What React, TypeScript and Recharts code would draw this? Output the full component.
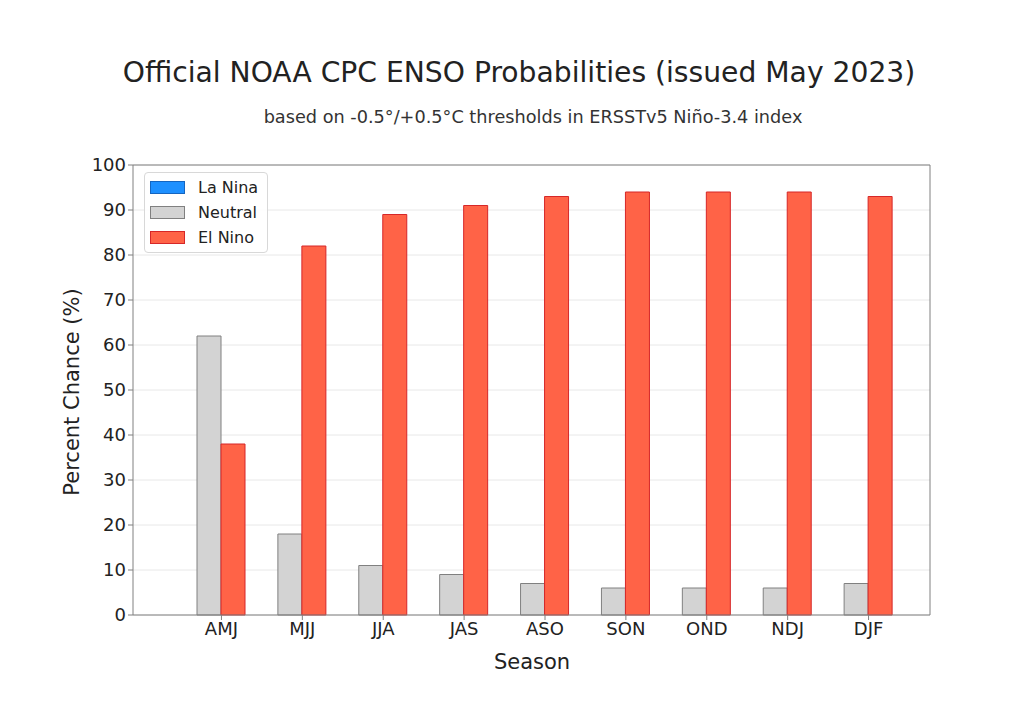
import React from "react";
import { BarChart, Bar, XAxis, YAxis, CartesianGrid } from "recharts";

const seasons = ["AMJ", "MJJ", "JJA", "JAS", "ASO", "SON", "OND", "NDJ", "DJF"];
const laNina = [0, 0, 0, 0, 0, 0, 0, 0, 0];
const neutral = [62, 18, 11, 9, 7, 6, 6, 6, 7];
const elNino = [38, 82, 89, 91, 93, 94, 94, 94, 93];
const yTicks = [0, 10, 20, 30, 40, 50, 60, 70, 80, 90, 100];

const data = seasons.map((s, i) => ({
  season: s,
  laNina: laNina[i],
  neutral: neutral[i],
  elNino: elNino[i],
}));

const font = "'DejaVu Sans', sans-serif";
const xPad = { left: 48, right: 21 };

const legendItems = [
  { name: "La Nina", fill: "#1e90ff", stroke: "#1565c0" },
  { name: "Neutral", fill: "#d3d3d3", stroke: "#808080" },
  { name: "El Nino", fill: "#ff6347", stroke: "#d62728" },
];

function LegendBox() {
  return (
    <div
      style={{
        position: "absolute",
        left: 144,
        top: 172,
        border: "1px solid #d8d8d8",
        borderRadius: 4,
        background: "rgba(255,255,255,0.85)",
        padding: "2px 9px 2px 5px",
        fontFamily: font,
        fontSize: 16,
        color: "#222",
      }}
    >
      {legendItems.map((it) => (
        <div key={it.name} style={{ display: "flex", alignItems: "center", height: 25 }}>
          <span
            style={{
              display: "inline-block",
              width: 33,
              height: 11,
              background: it.fill,
              border: `1px solid ${it.stroke}`,
              marginRight: 13,
            }}
          />
          {it.name}
        </div>
      ))}
    </div>
  );
}

export default function App() {
  return (
    <div style={{ position: "absolute", left: 0, top: 0, width: 1024, height: 720, background: "#fff" }}>
      <div
        style={{
          position: "absolute",
          top: 56,
          width: 1038,
          textAlign: "center",
          fontFamily: font,
          fontSize: 28.2,
          color: "#222",
        }}
      >
        Official NOAA CPC ENSO Probabilities (issued May 2023)
      </div>
      <div
        style={{
          position: "absolute",
          top: 107,
          width: 1066,
          textAlign: "center",
          fontFamily: font,
          fontSize: 17.7,
          color: "#333",
        }}
      >
        based on -0.5°/+0.5°C thresholds in ERSSTv5 Niño-3.4 index
      </div>
      <div
        style={{
          position: "absolute",
          left: 72,
          top: 392,
          transform: "translate(-50%, -50%) rotate(-90deg)",
          whiteSpace: "nowrap",
          fontFamily: font,
          fontSize: 21,
          color: "#222",
        }}
      >
        Percent Chance (%)
      </div>
      <div
        style={{
          position: "absolute",
          left: 0,
          top: 650,
          width: 1064,
          textAlign: "center",
          fontFamily: font,
          fontSize: 21,
          color: "#222",
        }}
      >
        Season
      </div>
      <BarChart
        width={1024}
        height={720}
        data={data}
        margin={{ top: 164, right: 93, left: 73, bottom: 75 }}
        barSize={24}
        barGap={0}
        style={{ position: "absolute", left: 0, top: 0 }}
      >
        <CartesianGrid vertical={false} stroke="#e8e8e8" xAxisId="bottom" yAxisId="left" />
        <XAxis
          dataKey="season"
          xAxisId="bottom"
          padding={xPad}
          height={30}
          tick={{ fontSize: 18, fill: "#222", fontFamily: font }}
          tickSize={5}
          stroke="#808080"
          interval={0}
        />
        <XAxis dataKey="season" xAxisId="ln" padding={xPad} hide />
        <XAxis dataKey="season" xAxisId="top" orientation="top" height={1} tick={false} tickLine={false} stroke="#808080" />
        <YAxis
          yAxisId="left"
          domain={[0, 100]}
          ticks={yTicks}
          width={60}
          tickSize={5}
          tick={{ fontSize: 18, fill: "#222", fontFamily: font }}
          stroke="#808080"
          interval={0}
        />
        <YAxis yAxisId="right" orientation="right" domain={[0, 100]} width={1} tick={false} tickLine={false} stroke="#808080" />
        <Bar dataKey="laNina" xAxisId="ln" yAxisId="left" fill="#1e90ff" stroke="#1565c0" isAnimationActive={false} />
        <Bar dataKey="neutral" xAxisId="bottom" yAxisId="left" fill="#d3d3d3" stroke="#808080" isAnimationActive={false} />
        <Bar dataKey="elNino" xAxisId="bottom" yAxisId="left" fill="#ff6347" stroke="#d62728" isAnimationActive={false} />
      </BarChart>
      <LegendBox />
    </div>
  );
}
